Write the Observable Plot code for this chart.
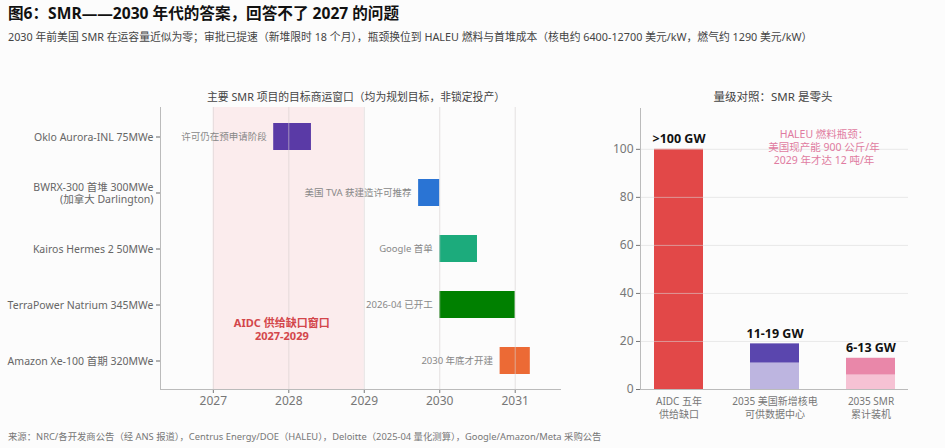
<!DOCTYPE html>
<html><head><meta charset="utf-8">
<script src="https://cdn.jsdelivr.net/npm/d3@7"></script>
<script src="https://cdn.jsdelivr.net/npm/@observablehq/plot@0.6"></script>
<style>
body{margin:0;background:#fcfcfc;font-family:"Noto Sans","Noto Sans CJK SC",sans-serif;}
#root{position:relative;width:945px;height:448px;overflow:hidden;}
.t{position:absolute;white-space:nowrap;}
#title{left:8px;top:3px;font-size:15.6px;line-height:20px;font-weight:bold;color:#111;}
#sub{left:8px;top:30px;font-size:10.8px;line-height:14px;color:#444;}
.ct{top:90px;line-height:14px;color:#444;transform:translateX(-50%);}
#foot{left:8px;top:430px;font-size:9.35px;line-height:14px;color:#777;}
#lc{position:absolute;left:0;top:100px;}
#rc{position:absolute;left:590px;top:100px;}
</style></head>
<body><div id="root">
<div class="t" id="title">图6：SMR——2030 年代的答案，回答不了 2027 的问题</div>
<div class="t" id="sub">2030 年前美国 SMR 在运容量近似为零；审批已提速（新堆限时 18 个月），瓶颈换位到 HALEU 燃料与首堆成本（核电约 6400-12700 美元/kW，燃气约 1290 美元/kW）</div>
<div class="t ct" style="left:356px;font-size:10.8px">主要 SMR 项目的目标商运窗口（均为规划目标，非锁定投产）</div>
<div class="t ct" style="left:773px;font-size:11.5px">量级对照：SMR 是零头</div>
<div id="lc"></div><div id="rc"></div>
<div class="t" id="foot">来源：NRC/各开发商公告（经 ANS 报道），Centrus Energy/DOE（HALEU），Deloitte（2025-04 量化测算），Google/Amazon/Meta 采购公告</div>
</div>
<script>
// ---- left chart data ----
const projects = ["Oklo Aurora-INL 75MWe", "BWRX-300 首堆 300MWe\n(加拿大 Darlington)", "Kairos Hermes 2 50MWe", "TerraPower Natrium 345MWe", "Amazon Xe-100 首期 320MWe"];
const starts = [2027.8, 2029.72, 2030.0, 2030.0, 2030.8];
const ends = [2028.3, 2030.0, 2030.5, 2031.0, 2031.2];
const notes = ["许可仍在预申请阶段", "美国 TVA 获建造许可推荐", "Google 首单", "2026-04 已开工", "2030 年底才开建"];
const barColors = ["#5a3aa6", "#2a74d4", "#1cab7c", "#008000", "#ec6a35"];
const years = [2027, 2028, 2029, 2030, 2031];
const gap = [2027, 2029];
const gapLabel = "AIDC 供给缺口窗口\n2027-2029";

// ---- right chart data ----
const cmpCats = ["AIDC 五年\n供给缺口", "2035 美国新增核电\n可供数据中心", "2035 SMR\n累计装机"];
const lowVals = [100, 11, 6];
const highVals = [100, 19, 13];
const lowColors = ["#e24848", "#bdb5e0", "#f6c2d4"];
const highColors = ["#e24848", "#5a46ae", "#e987a9"];
const cmpLabels = [">100 GW", "11-19 GW", "6-13 GW"];
const yTicks = [0, 20, 40, 60, 80, 100];
const haleuNote = "HALEU 燃料瓶颈：\n美国现产能 900 公斤/年\n2029 年才达 12 吨/年";

const font = '"Noto Sans","Noto Sans CJK SC",sans-serif';
const rows = projects.map((p, i) => ({project: p, start: starts[i], end: ends[i], note: notes[i], color: barColors[i]}));

const left = Plot.plot({
  width: 570, height: 320,
  marginLeft: 160, marginRight: 10, marginTop: 7, marginBottom: 31,
  style: {fontFamily: font, background: "transparent", color: "#666"},
  color: {type: "identity"},
  x: {domain: [2026.3, 2031.6], label: null},
  y: {domain: projects, paddingInner: 0.52, paddingOuter: 0.25, label: null},
  marks: [
    Plot.rect([gap], {x1: d => d[0], x2: d => d[1], fill: "#fbeced"}),
    Plot.barX(rows, {x1: "start", x2: "end", y: "project", fill: "color"}),
    Plot.ruleX(years, {stroke: "#d6d0d0", strokeOpacity: 0.6}),
    Plot.text(rows, {x: "start", y: "project", text: "note", textAnchor: "end", dx: -7, fill: "#888", fontSize: 9.5}),
    Plot.text([gapLabel], {x: (gap[0] + gap[1]) / 2, y: () => projects[3], dx: -7, dy: 24, text: d => d, fill: "#d3464b", fontWeight: "bold", fontSize: 11, lineHeight: 1.2}),
    Plot.axisX({ticks: years, tickFormat: d => String(d), tickSize: 4, tickPadding: 3, fontSize: 12, color: "#777"}),
    Plot.axisY({tickSize: 4, tickPadding: 3, fontSize: 10.5, lineHeight: 1.2, color: "#666"}),
    Plot.frame({anchor: "left", stroke: "#bbb"}),
    Plot.frame({anchor: "bottom", stroke: "#bbb"})
  ]
});
document.getElementById("lc").append(left);

const cmp = cmpCats.map((c, i) => ({cat: c, low: lowVals[i], high: highVals[i], lc: lowColors[i], hc: highColors[i], label: cmpLabels[i]}));
const right = Plot.plot({
  width: 340, height: 330,
  marginLeft: 50, marginRight: 22, marginTop: 8, marginBottom: 41,
  style: {fontFamily: font, background: "transparent", color: "#777"},
  color: {type: "identity"},
  x: {domain: cmpCats, paddingInner: 0.49, paddingOuter: 0.14, label: null},
  y: {domain: [0, 117], label: null},
  marks: [
    Plot.barY(cmp, {x: "cat", y1: 0, y2: "low", fill: "lc"}),
    Plot.barY(cmp, {x: "cat", y1: "low", y2: "high", fill: "hc"}),
    Plot.ruleY(yTicks, {stroke: "#d8d8d8", strokeOpacity: 0.55}),
    Plot.text(cmp, {x: "cat", y: "high", text: "label", dy: -10, fontWeight: "bold", fontSize: 12.5, fill: "#111"}),
    Plot.text([haleuNote], {x: () => cmpCats[1], y: 101, dx: 49, text: d => d, fill: "#e07ba0", fontSize: 10.5, lineHeight: 1.2}),
    Plot.axisY({ticks: yTicks, tickSize: 4, tickPadding: 3, fontSize: 12, color: "#777"}),
    Plot.axisX({tickSize: 0, tickPadding: 7, fontSize: 10, lineHeight: 1.25, color: "#777"}),
    Plot.frame({anchor: "left", stroke: "#bbb"}),
    Plot.ruleY([0], {stroke: "#bbb"})
  ]
});
document.getElementById("rc").append(right);
</script>
</body></html>
